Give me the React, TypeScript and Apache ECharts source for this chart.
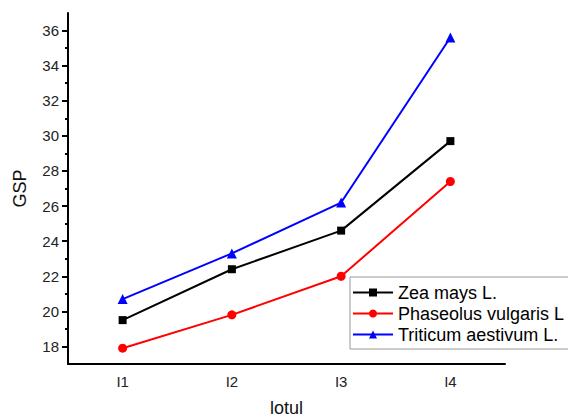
import React, { useEffect, useRef } from "react";
import * as echarts from "echarts";

const categories = ["I1", "I2", "I3", "I4"];
const zeaMays = [19.5, 22.4, 24.6, 29.7];
const phaseolus = [17.9, 19.8, 22.0, 27.4];
const triticum = [20.7, 23.3, 26.2, 35.6];
const majorTicks = [18, 20, 22, 24, 26, 28, 30, 32, 34, 36];
const minorTicks = [19, 21, 23, 25, 27, 29, 31, 33, 35];

const FONT = "'Liberation Sans', Arial, sans-serif";

export default function App() {
  const ref = useRef<HTMLDivElement>(null);

  useEffect(() => {
    if (!ref.current) return;
    const chart = echarts.init(ref.current, null, { renderer: "svg" });
    const axisLine = { lineStyle: { color: "#000", width: 2 } };
    chart.setOption({
      animation: false,
      textStyle: { fontFamily: FONT },
      grid: { left: 68, top: 13, right: 63, bottom: 53, outerBoundsMode: "none", containLabel: false },
      legend: {
        orient: "vertical",
        left: 350,
        top: 277,
        width: 240,
        padding: [6, 30, 5, 2],
        itemGap: 2,
        itemWidth: 40,
        itemHeight: 10,
        borderColor: "#999",
        borderWidth: 1,
        borderRadius: 0,
        textStyle: { fontSize: 18, lineHeight: 19, color: "#000", fontFamily: FONT, padding: [0, 0, 0, 0] },
        data: ["Zea mays L.", "Phaseolus vulgaris L", "Triticum aestivum L."],
      },
      xAxis: [
        {
          type: "category",
          data: categories,
          boundaryGap: true,
          name: "lotul",
          nameLocation: "middle",
          nameGap: 35,
          nameTextStyle: { fontSize: 18, color: "#111", fontFamily: FONT },
          axisLine,
          axisTick: { alignWithLabel: true, length: 5, lineStyle: { color: "#000", width: 2 } },
          axisLabel: { fontSize: 15, color: "#222", margin: 10, fontFamily: FONT },
          splitLine: { show: false },
        },
        {
          type: "category",
          data: categories,
          boundaryGap: true,
          position: "bottom",
          axisLine: { show: false },
          axisTick: { length: 5, lineStyle: { color: "#000", width: 2 } },
          axisLabel: { show: false },
          splitLine: { show: false },
        },
      ],
      yAxis: [
        {
          type: "value",
          min: 17,
          max: 37,
          name: "GSP",
          nameLocation: "middle",
          nameGap: 39,
          nameRotate: 90,
          nameTextStyle: { fontSize: 18, color: "#111", fontFamily: FONT },
          axisLine: { show: true, ...axisLine },
          axisTick: {
            show: true,
            length: 6,
            customValues: majorTicks,
            lineStyle: { color: "#000", width: 2 },
          },
          axisLabel: {
            fontSize: 15,
            color: "#222",
            margin: 9,
            customValues: majorTicks,
            fontFamily: FONT,
          },
          splitLine: { show: false },
        },
        {
          type: "value",
          min: 17,
          max: 37,
          position: "left",
          axisLine: { show: false },
          axisTick: {
            show: true,
            length: 3,
            customValues: minorTicks,
            lineStyle: { color: "#000", width: 2 },
          },
          axisLabel: { show: false },
          splitLine: { show: false },
        },
      ],
      series: [
        {
          name: "Zea mays L.",
          type: "line",
          data: zeaMays,
          symbol: "rect",
          symbolSize: 8,
          lineStyle: { color: "#000", width: 2 },
          itemStyle: { color: "#000" },
        },
        {
          name: "Phaseolus vulgaris L",
          type: "line",
          data: phaseolus,
          symbol: "circle",
          symbolSize: 9,
          lineStyle: { color: "#ff0000", width: 2 },
          itemStyle: { color: "#ff0000" },
        },
        {
          name: "Triticum aestivum L.",
          type: "line",
          data: triticum,
          symbol: "triangle",
          symbolSize: 10,
          lineStyle: { color: "#0000ff", width: 2 },
          itemStyle: { color: "#0000ff" },
        },
      ],
    });
    return () => chart.dispose();
  }, []);

  return <div ref={ref} style={{ width: 568, height: 417, position: "absolute", left: 0, top: 0 }} />;
}
